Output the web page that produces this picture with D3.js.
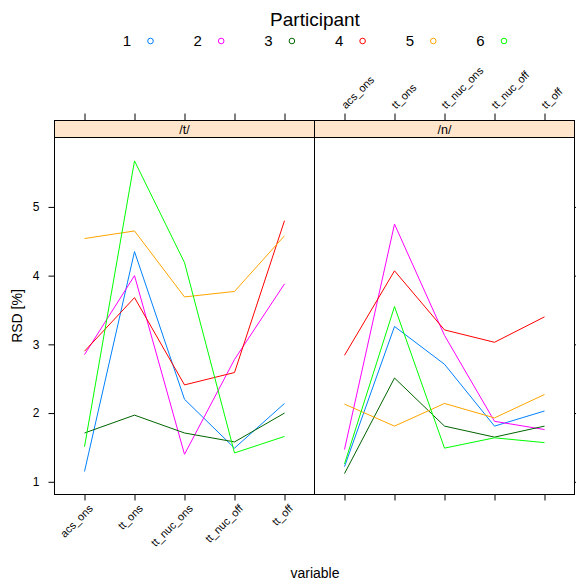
<!DOCTYPE html>
<html>
<head>
<meta charset="utf-8">
<script src="https://cdn.jsdelivr.net/npm/d3@7"></script>
<style>
  body { margin: 0; background: #fff; }
  text { font-family: 'Liberation Sans', Arial, sans-serif; }
</style>
</head>
<body>
<div id="chart"></div>
<script>
const participants = ['1', '2', '3', '4', '5', '6']
const variables = ['acs_ons', 'tt_ons', 'tt_nuc_ons', 'tt_nuc_off', 'tt_off']
const panels = ['/t/', '/n/']
const yTicks = [1, 2, 3, 4, 5]

// RSD [%] per participant, one array per panel
const rsdT = [
  [1.15, 4.35, 2.2, 1.49, 2.14],
  [2.85, 4.0, 1.4, 2.78, 3.88],
  [1.71, 1.97, 1.71, 1.58, 2.0],
  [2.9, 3.68, 2.41, 2.59, 4.8],
  [4.54, 4.65, 3.69, 3.77, 4.58],
  [1.51, 5.67, 4.19, 1.42, 1.66]
]
const rsdN = [
  [1.22, 3.26, 2.71, 1.81, 2.03],
  [1.47, 4.75, 3.13, 1.88, 1.76],
  [1.12, 2.51, 1.81, 1.65, 1.81],
  [2.84, 4.07, 3.21, 3.03, 3.4],
  [2.13, 1.81, 2.14, 1.93, 2.27],
  [1.26, 3.55, 1.49, 1.64, 1.57]
]

const colors = ['#0080ff', '#ff00ff', '#006400', '#ff0000', '#ffa500', '#00ff00']

const width = 576
const height = 584
const panelLeft = 54.5
const panelWidth = 260
const stripTop = 120.5
const panelTop = 137.5
const panelBottom = 494.5

const svg = d3
  .select('#chart')
  .append('svg')
  .attr('width', width)
  .attr('height', height)

const xPositionScale = d3
  .scalePoint()
  .domain(variables)
  .range([0, panelWidth])
  .padding(0.6)

const yPositionScale = d3
  .scaleLinear()
  .domain([0.815, 6.01])
  .range([panelBottom, panelTop])

const colorScale = d3.scaleOrdinal().domain(participants).range(colors)

const line = d3
  .line()
  .x((d, i) => xPositionScale(variables[i]))
  .y(d => yPositionScale(d))

// legend
svg
  .append('text')
  .attr('x', 315)
  .attr('y', 26)
  .attr('text-anchor', 'middle')
  .attr('font-size', 19)
  .text('Participant')

const legend = svg
  .selectAll('.legend-item')
  .data(participants)
  .enter()
  .append('g')
  .attr('class', 'legend-item')
  .attr('transform', (d, i) => 'translate(' + (127 + i * 70.7) + ',41)')

legend
  .append('text')
  .attr('text-anchor', 'middle')
  .attr('dy', '0.36em')
  .attr('font-size', 15)
  .text(d => d)

legend
  .append('circle')
  .attr('cx', 23.5)
  .attr('r', 2.8)
  .attr('fill', 'none')
  .attr('stroke', d => colorScale(d))
  .attr('stroke-width', 1)

const data = [rsdT, rsdN]

panels.forEach((name, p) => {
  const x0 = panelLeft + p * panelWidth
  const g = svg.append('g').attr('transform', 'translate(' + x0 + ',0)')

  // strip
  g.append('rect')
    .attr('x', 0)
    .attr('y', stripTop)
    .attr('width', panelWidth)
    .attr('height', panelTop - stripTop)
    .attr('fill', '#ffe5cc')
    .attr('stroke', '#000')
  g.append('text')
    .attr('x', panelWidth / 2)
    .attr('y', (stripTop + panelTop) / 2)
    .attr('dy', '0.36em')
    .attr('text-anchor', 'middle')
    .attr('font-size', 12.5)
    .text(name)

  // lines
  g.selectAll('.rsd-line')
    .data(data[p])
    .enter()
    .append('path')
    .attr('class', 'rsd-line')
    .attr('d', d => line(d))
    .attr('fill', 'none')
    .attr('stroke', (d, i) => colorScale(participants[i]))
    .attr('stroke-width', 1)

  g.append('rect')
    .attr('x', 0)
    .attr('y', panelTop)
    .attr('width', panelWidth)
    .attr('height', panelBottom - panelTop)
    .attr('fill', 'none')
    .attr('stroke', '#000')

  // bottom axis (labels on the left panel only)
  const xBottom = g
    .append('g')
    .attr('class', 'axis x-axis')
    .attr('transform', 'translate(0,' + panelBottom + ')')
    .call(d3.axisBottom(xPositionScale).tickSize(6))
  xBottom.select('.domain').remove()
  if (p === 0) {
    xBottom
      .selectAll('text')
      .attr('font-size', 11)
      .attr('text-anchor', 'end')
      .attr('y', 0)
      .attr('dy', 0)
      .attr('transform', 'translate(3,9) rotate(-45) translate(0,8)')
  } else {
    xBottom.selectAll('text').remove()
  }

  // top axis (labels on the right panel only)
  const xTop = g
    .append('g')
    .attr('class', 'axis x-axis-top')
    .attr('transform', 'translate(0,' + stripTop + ')')
    .call(d3.axisTop(xPositionScale).tickSize(7))
  xTop.select('.domain').remove()
  if (p === 1) {
    xTop
      .selectAll('text')
      .attr('font-size', 11)
      .attr('text-anchor', 'start')
      .attr('y', 0)
      .attr('dy', 0)
      .attr('transform', 'translate(1,-11) rotate(-45)')
  } else {
    xTop.selectAll('text').remove()
  }

  // y axis: labels on the left, bare ticks on the right
  if (p === 0) {
    const yAxis = g
      .append('g')
      .attr('class', 'axis y-axis')
      .call(
        d3
          .axisLeft(yPositionScale)
          .tickValues(yTicks)
          .tickFormat(d3.format('d'))
          .tickSize(6)
          .tickPadding(9)
      )
    yAxis.select('.domain').remove()
    yAxis.selectAll('text').attr('font-size', 12)
  } else {
    const yAxis = g
      .append('g')
      .attr('class', 'axis y-axis-right')
      .attr('transform', 'translate(' + panelWidth + ',0)')
      .call(d3.axisRight(yPositionScale).tickValues(yTicks).tickSize(6))
    yAxis.select('.domain').remove()
    yAxis.selectAll('text').remove()
  }
})

svg.selectAll('.axis text').attr('font-family', "'Liberation Sans', Arial, sans-serif").attr('fill', '#000')
svg.selectAll('.axis line').attr('stroke', '#000')

// axis titles
svg
  .append('text')
  .attr('x', 315)
  .attr('y', 578)
  .attr('text-anchor', 'middle')
  .attr('font-size', 14)
  .text('variable')

svg
  .append('text')
  .attr('transform', 'translate(22,316) rotate(-90)')
  .attr('text-anchor', 'middle')
  .attr('font-size', 14)
  .text('RSD [%]')
</script>
</body>
</html>
